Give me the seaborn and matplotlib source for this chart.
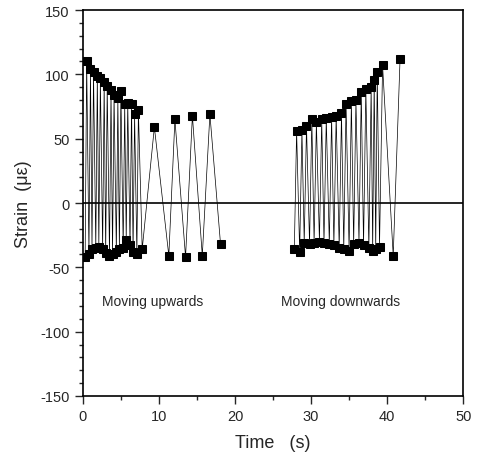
"""
Strain vs time while moving up and down
"""

import numpy as np
import pandas as pd
import matplotlib
matplotlib.use("Agg")
import matplotlib.pyplot as plt
from matplotlib.ticker import MultipleLocator
import seaborn as sns

# Data (alternating valleys / peaks)
up_time = [0.3, 0.5, 0.8, 1.0, 1.2, 1.4, 1.7, 1.9, 2.1, 2.3,
           2.6, 2.8, 3.0, 3.2, 3.5, 3.7, 3.9, 4.1, 4.4, 4.6,
           4.8, 5.0, 5.3, 5.5, 5.7, 5.9, 6.2, 6.4, 6.6, 6.8,
           7.1, 7.3, 7.8, 9.4, 11.3, 12.1, 13.5, 14.4, 15.7, 16.7,
           18.1]
up_strain = [-42, 110, -40, 104, -36, 102, -35, 99, -34, 97,
             -36, 94, -39, 91, -41, 88, -40, 84, -38, 82,
             -36, 87, -35, 77, -29, 78, -33, 77, -38, 69,
             -40, 72, -36, 59, -41, 65, -42, 68, -41, 69,
             -32]

down_time = [27.8, 28.1, 28.5, 28.8, 29.1, 29.4, 29.8, 30.1, 30.4, 30.7,
             31.1, 31.4, 31.7, 32.0, 32.4, 32.7, 33.0, 33.3, 33.7, 34.0,
             34.3, 34.6, 35.0, 35.3, 35.6, 35.9, 36.3, 36.6, 36.9, 37.2,
             37.6, 37.9, 38.1, 38.3, 38.5, 38.7, 39.0, 39.4, 40.8, 41.7]
down_strain = [-36, 56, -38, 57, -31, 60, -32, 65, -31, 63,
               -30, 65, -31, 66, -32, 67, -33, 68, -35, 70,
               -36, 77, -37, 79, -32, 80, -31, 86, -33, 89,
               -35, 90, -37, 96, -36, 102, -34, 107, -41, 112]

up = pd.DataFrame({"time": up_time, "strain": up_strain})
down = pd.DataFrame({"time": down_time, "strain": down_strain})

sns.set_style("ticks")
plt.rcParams["font.family"] = ["Liberation Sans", "DejaVu Sans"]
plt.rcParams["axes.unicode_minus"] = False

fig = plt.figure(figsize=(4.79, 4.60), dpi=100)
ax = fig.add_axes([0.173, 0.137, 0.794, 0.839])

for df in (up, down):
    sns.lineplot(data=df, x="time", y="strain", sort=False, estimator=None,
                 color="black", linewidth=0.5, marker="s", markersize=6,
                 markeredgecolor="black", ax=ax)

ax.axhline(0, color="black", linewidth=1.2)

ax.set_xlim(0, 50)
ax.set_ylim(-150, 150)
ax.xaxis.set_major_locator(MultipleLocator(10))
ax.xaxis.set_minor_locator(MultipleLocator(5))
ax.yaxis.set_major_locator(MultipleLocator(50))
ax.yaxis.set_minor_locator(MultipleLocator(10))
ax.tick_params(which="major", direction="out", length=6, width=1,
               labelsize=10.5, top=False, right=False)
ax.tick_params(which="minor", direction="out", length=3, width=1,
               top=False, right=False)
for s in ax.spines.values():
    s.set_linewidth(1.2)
    s.set_color("black")

ax.set_xlabel("Time   (s)", fontsize=13, labelpad=8)
ax.set_ylabel("Strain  (με)", fontsize=13, labelpad=6)

ax.text(2.5, -76, "Moving upwards", fontsize=10, va="center")
ax.text(26.1, -76, "Moving downwards", fontsize=10, va="center")

plt.savefig("out.png", dpi=100)
plt.close()
